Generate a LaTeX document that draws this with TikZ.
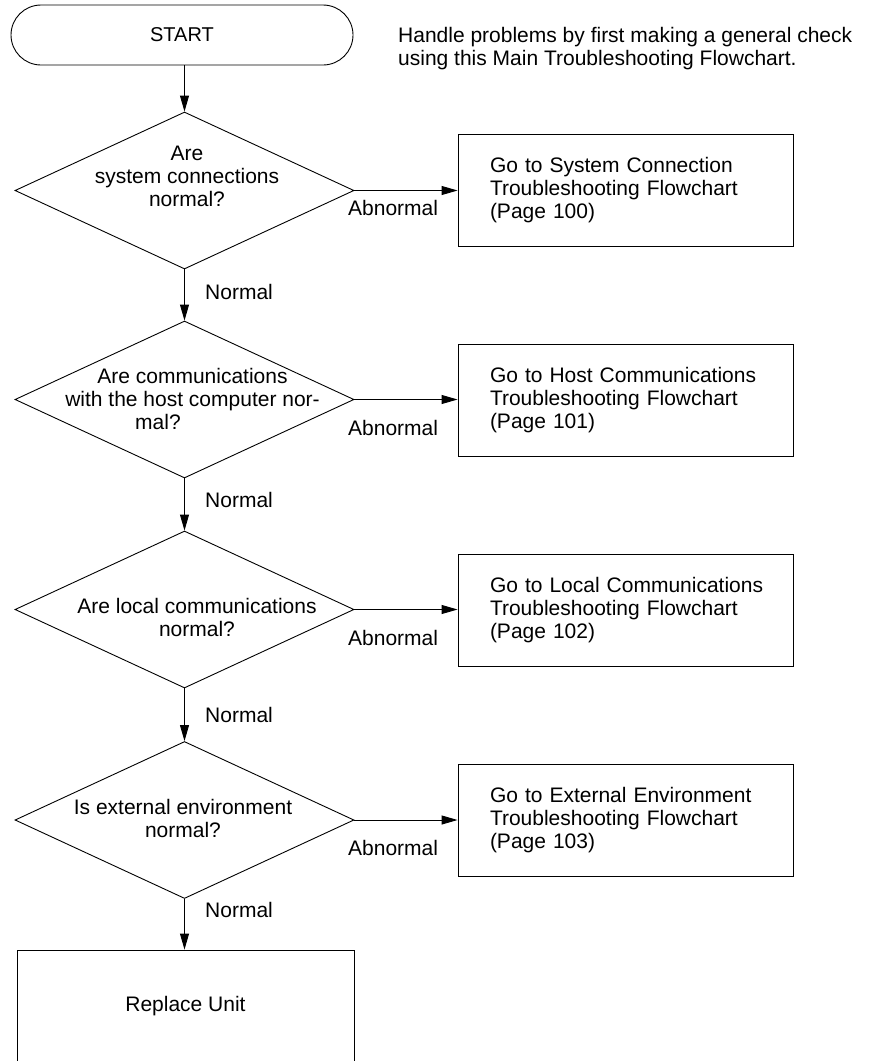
\documentclass[tikz,border=0pt]{standalone}
\usepackage{fontspec}
\setmainfont{Liberation Sans}
\usetikzlibrary{arrows.meta,shapes.geometric}
\begin{document}
\begin{tikzpicture}[x=1pt,y=-1pt,
  every node/.style={font=\fontsize{21}{23}\selectfont},
  dia/.style={draw, shape=diamond, minimum width=339pt, minimum height=157pt, inner sep=0pt, line width=0.9pt},
  gobox/.style={draw, rectangle, minimum width=335pt, minimum height=112pt, text width=271pt, inner xsep=32pt, align=left, line width=0.9pt},
  lbl/.style={anchor=west, inner sep=0pt},
  txt/.style={align=center, inner sep=0pt},
  arr/.style={-{Triangle[length=16pt,width=9pt]}, line width=0.9pt}
]
\path[use as bounding box, fill=white] (0,0) rectangle (870,1061);

% start
\node[draw, rounded corners=30pt, minimum width=342pt, minimum height=60pt, line width=0.9pt, font=\fontsize{20}{23}\selectfont] (start) at (182,35) {START};
\node[lbl, align=left] (note) at (398,48.5) {Handle problems by first making a general check\\using this Main Troubleshooting Flowchart.};

% diamonds
\node[dia] (d1) at (184.5,190.5) {};
\node[dia] (d2) at (184.5,399.5) {};
\node[dia] (d3) at (184.5,609.5) {};
\node[dia] (d4) at (184.5,820) {};

\node[txt] (t1) at (187,176.5) {Are\\system connections\\normal?};
\node[txt] (t2) at (192.5,399) {Are communications\\with the host computer nor-\\mal?\hspace*{69pt}};
\node[txt] (t3) at (197,617) {Are local communications\\normal?};
\node[txt] (t4) at (183,818.5) {Is external environment\\normal?};

% boxes
\node[gobox] (b1) at (625.5,190) {\mbox{Go to System Connection}\\\mbox{Troubleshooting Flowchart}\\\mbox{(Page 100)}};
\node[gobox] (b2) at (625.5,400) {\mbox{Go to Host Communications}\\\mbox{Troubleshooting Flowchart}\\\mbox{(Page 101)}};
\node[gobox] (b3) at (625.5,610) {\mbox{Go to Local Communications}\\\mbox{Troubleshooting Flowchart}\\\mbox{(Page 102)}};
\node[gobox] (b4) at (625.5,820) {\mbox{Go to External Environment}\\\mbox{Troubleshooting Flowchart}\\\mbox{(Page 103)}};

\node[draw, minimum width=337pt, minimum height=112pt, line width=0.9pt] (rep) at (185.5,1006) {Replace Unit};

% connectors
\draw[arr] (start.south -| d1.north) -- (d1.north);
\draw[arr] (d1.south) -- (d2.north);
\draw[arr] (d2.south) -- (d3.north);
\draw[arr] (d3.south) -- (d4.north);
\draw[arr] (d4.south) -- (d4.south |- rep.north);

\draw[arr] (d1.east) -- (d1.east -| b1.west);
\draw[arr] (d2.east) -- (d2.east -| b2.west);
\draw[arr] (d3.east) -- (d3.east -| b3.west);
\draw[arr] (d4.east) -- (d4.east -| b4.west);

% labels
\node[lbl] (n1) at (205,292) {Normal};
\node[lbl] (n2) at (205,500) {Normal};
\node[lbl] (n3) at (205,715) {Normal};
\node[lbl] (n4) at (205,910) {Normal};

\node[lbl] (a1) at (348,208) {Abnormal};
\node[lbl] (a2) at (348,428) {Abnormal};
\node[lbl] (a3) at (348,638) {Abnormal};
\node[lbl] (a4) at (348,848) {Abnormal};
\end{tikzpicture}
\end{document}
